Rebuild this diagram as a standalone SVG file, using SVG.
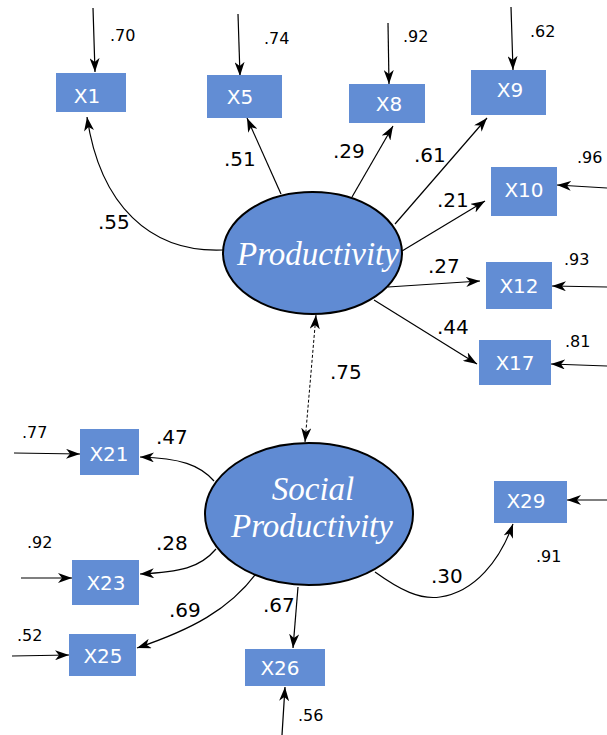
<svg xmlns="http://www.w3.org/2000/svg" width="607" height="735" viewBox="0 0 607 735">
<style>
.box{fill:#628dd4}
.bt{font-family:"DejaVu Sans",sans-serif;font-size:20px;fill:#fff;text-anchor:middle}
.lat{fill:#608bd3;stroke:#000;stroke-width:2}
.lt{font-family:"Liberation Serif",serif;font-style:italic;font-size:33px;fill:#fff;text-anchor:middle}
.c{fill:none;stroke:#000;stroke-width:1.2;marker-end:url(#ah)}
.d{fill:none;stroke:#000;stroke-width:1;stroke-dasharray:3,2;marker-end:url(#ah);marker-start:url(#ah)}
.pl{font-family:"DejaVu Sans",sans-serif;font-size:20px;fill:#000}
.el{font-family:"DejaVu Sans",sans-serif;font-size:16px;fill:#000}
</style>
<defs>
<marker id="ah" viewBox="0 0 14 10" refX="14" refY="5" markerWidth="14" markerHeight="10" markerUnits="userSpaceOnUse" orient="auto-start-reverse">
<path d="M0,0 L14,5 L0,10 L4,5 z" fill="#000"/>
</marker>
</defs>
<rect width="607" height="735" fill="#fff"/>
<g id="connectors">
<path class="c" d="M93,8 L95,72"/>
<path class="c" d="M238,14 L240,76"/>
<path class="c" d="M388,23 L389,84"/>
<path class="c" d="M511,7 L513,70"/>
<path class="c" d="M607,188 L557,185"/>
<path class="c" d="M607,287 L552,286"/>
<path class="c" d="M607,366 L551,364"/>
<path class="c" d="M14,453 L80,454"/>
<path class="c" d="M21,578 L72,578"/>
<path class="c" d="M12,656 L69,655"/>
<path class="c" d="M282,735 L285,687"/>
<path class="c" d="M607,500 L567,500"/>
<path class="c" d="M223,250 C150,253 100,205 87,117"/>
<path class="c" d="M281,194 L247,118"/>
<path class="c" d="M352,197 L393,126"/>
<path class="c" d="M395,224 L487,118"/>
<path class="c" d="M402,251 L485,201"/>
<path class="c" d="M388,287 L480,281"/>
<path class="c" d="M374,300 L477,364"/>
<path class="d" d="M316,315 L305,442"/>
<path class="c" d="M214,481 C200,465 180,458 140,457"/>
<path class="c" d="M216,549 C200,568 180,572 140,574"/>
<path class="c" d="M258,571 C230,610 190,630 137,648"/>
<path class="c" d="M298,587 L293,648"/>
<path class="c" d="M375,572 C400,590 420,600 440,597 C475,592 500,560 513,524"/>
</g>
<g id="Productivity"><ellipse class="lat" cx="312.5" cy="253" rx="89.5" ry="61"/><text class="lt" x="318" y="265">Productivity</text></g>
<g id="SocialProductivity"><ellipse class="lat" cx="309" cy="514" rx="104" ry="71"/><text class="lt" x="313" y="500">Social</text><text class="lt" x="312" y="537">Productivity</text></g>
<g id="X1"><rect class="box" x="56" y="73" width="70" height="39"/><text class="bt" x="87" y="103">X1</text></g>
<g id="X5"><rect class="box" x="207" y="75" width="75" height="43"/><text class="bt" x="240" y="104">X5</text></g>
<g id="X8"><rect class="box" x="349" y="84" width="76" height="39"/><text class="bt" x="389" y="111">X8</text></g>
<g id="X9"><rect class="box" x="471" y="70" width="75" height="45"/><text class="bt" x="510" y="97">X9</text></g>
<g id="X10"><rect class="box" x="491" y="167" width="66" height="49"/><text class="bt" x="524" y="197">X10</text></g>
<g id="X12"><rect class="box" x="486" y="262" width="66" height="47"/><text class="bt" x="519" y="293">X12</text></g>
<g id="X17"><rect class="box" x="479" y="340" width="72" height="45"/><text class="bt" x="515" y="370">X17</text></g>
<g id="X21"><rect class="box" x="80" y="429" width="59" height="46"/><text class="bt" x="109" y="461">X21</text></g>
<g id="X23"><rect class="box" x="72" y="560" width="67" height="45"/><text class="bt" x="106" y="590">X23</text></g>
<g id="X25"><rect class="box" x="69" y="634" width="67" height="42"/><text class="bt" x="103" y="663">X25</text></g>
<g id="X26"><rect class="box" x="245" y="649" width="80" height="37"/><text class="bt" x="280" y="675">X26</text></g>
<g id="X29"><rect class="box" x="494" y="481" width="73" height="42"/><text class="bt" x="526" y="508">X29</text></g>
<g id="labels">
<text class="pl" x="98" y="229">.55</text>
<text class="pl" x="224" y="166">.51</text>
<text class="pl" x="333" y="158">.29</text>
<text class="pl" x="414" y="162">.61</text>
<text class="pl" x="437" y="207">.21</text>
<text class="pl" x="428" y="273">.27</text>
<text class="pl" x="437" y="334">.44</text>
<text class="pl" x="330" y="379">.75</text>
<text class="pl" x="156" y="444">.47</text>
<text class="pl" x="156" y="550">.28</text>
<text class="pl" x="169" y="617">.69</text>
<text class="pl" x="263" y="612">.67</text>
<text class="pl" x="431" y="583">.30</text>
<text class="el" x="110" y="41">.70</text>
<text class="el" x="264" y="44">.74</text>
<text class="el" x="403" y="42">.92</text>
<text class="el" x="530" y="37">.62</text>
<text class="el" x="577" y="163">.96</text>
<text class="el" x="564" y="265">.93</text>
<text class="el" x="565" y="347">.81</text>
<text class="el" x="22" y="438">.77</text>
<text class="el" x="27" y="548">.92</text>
<text class="el" x="17" y="641">.52</text>
<text class="el" x="298" y="721">.56</text>
<text class="el" x="536" y="562">.91</text>
</g>
</svg>
